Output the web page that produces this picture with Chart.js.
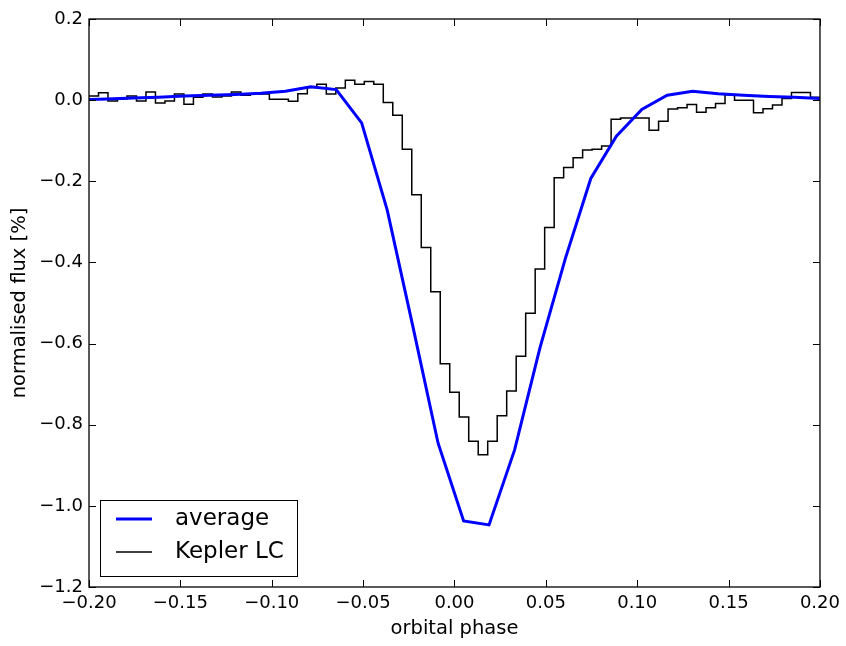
<!DOCTYPE html>
<html>
<head>
<meta charset="utf-8">
<script src="https://cdn.jsdelivr.net/npm/chart.js@4.4.1/dist/chart.umd.min.js"></script>
<style>
  body { margin: 0; background: #fff; }
</style>
</head>
<body>
<canvas id="chartDiv" width="846" height="646"></canvas>
<script>
// binned Kepler light curve, 77 equal bins from -0.2 to 0.2
const keplerFlux = [
  0.010, 0.018, -0.002, 0.003, 0.010, -0.002, 0.020, -0.007, -0.002, 0.015,
  -0.010, 0.007, 0.015, 0.008, 0.010, 0.020, 0.012, 0.016, 0.015, 0.002,
  0.002, -0.003, 0.016, 0.031, 0.039, 0.015, 0.030, 0.049, 0.039, 0.046,
  0.039, -0.006, -0.037, -0.121, -0.233, -0.363, -0.472, -0.650, -0.720, -0.781,
  -0.841, -0.874, -0.841, -0.778, -0.717, -0.631, -0.525, -0.416, -0.314, -0.191,
  -0.166, -0.142, -0.123, -0.121, -0.113, -0.047, -0.044, -0.044, -0.044, -0.074,
  -0.052, -0.022, -0.019, -0.011, -0.030, -0.019, -0.008, 0.013, 0.000, 0.000,
  -0.031, -0.021, -0.012, 0.004, 0.019, 0.019, 0.007
];
const phaseMin = -0.2;
const phaseMax = 0.2;

// averaged model curve
const avgPhase = [
  -0.204, -0.190, -0.176, -0.162, -0.148, -0.134, -0.120, -0.106, -0.0925, -0.0786,
  -0.0647, -0.0508, -0.0368, -0.0229, -0.0090, 0.0050, 0.0189, 0.0329, 0.0468, 0.0607,
  0.0746, 0.0886, 0.1025, 0.1164, 0.1303, 0.1443, 0.1582, 0.1721, 0.1860, 0.2000
];
const avgFlux = [
  0.001, 0.003, 0.005, 0.007, 0.010, 0.012, 0.014, 0.017, 0.022, 0.033,
  0.026, -0.056, -0.271, -0.555, -0.845, -1.037, -1.047, -0.862, -0.610, -0.390,
  -0.193, -0.089, -0.023, 0.012, 0.022, 0.016, 0.012, 0.009, 0.007, 0.004
];

const xTickStep = 0.05;
const yMin = -1.2;
const yMax = 0.2;
const yTickStep = 0.2;

// step line: one point per left bin edge, plus the closing right edge
var keplerPoints = [];
var binWidth = (phaseMax - phaseMin) / keplerFlux.length;
for (var i = 0; i < keplerFlux.length; i++) {
  keplerPoints.push({ x: phaseMin + i * binWidth, y: keplerFlux[i] });
}
keplerPoints.push({ x: phaseMax, y: keplerFlux[keplerFlux.length - 1] });

var avgPoints = avgPhase.map((p, i) => ({ x: p, y: avgFlux[i] }));

const FONT = "'DejaVu Sans', sans-serif";

function fmt(v, digits) {
  if (Math.abs(v) < 1e-9) v = 0;
  return v.toFixed(digits).replace("-", "\u2212");
}

// frame + inward ticks on all four sides, matplotlib style
const frameTicks = {
  id: "frameTicks",
  afterDatasetsDraw(chart) {
    const ctx = chart.ctx;
    const a = chart.chartArea;
    const len = 7;
    ctx.save();
    ctx.strokeStyle = "#000";
    ctx.lineWidth = 1;
    ctx.beginPath();
    chart.scales.x.ticks.forEach((t) => {
      var px = Math.round(chart.scales.x.getPixelForValue(t.value)) + 0.5;
      ctx.moveTo(px, a.bottom);
      ctx.lineTo(px, a.bottom - len);
      ctx.moveTo(px, a.top);
      ctx.lineTo(px, a.top + len);
    });
    chart.scales.y.ticks.forEach((t) => {
      var py = Math.round(chart.scales.y.getPixelForValue(t.value)) + 0.5;
      ctx.moveTo(a.left, py);
      ctx.lineTo(a.left + len, py);
      ctx.moveTo(a.right, py);
      ctx.lineTo(a.right - len, py);
    });
    ctx.stroke();
    ctx.lineWidth = 1.3;
    ctx.strokeRect(a.left, a.top, a.right - a.left, a.bottom - a.top);
    ctx.restore();
  },
};

// legend box in lower left corner of the axes
const boxLegend = {
  id: "boxLegend",
  afterDraw(chart) {
    const ctx = chart.ctx;
    const a = chart.chartArea;
    const x0 = a.left + 11;
    const y1 = a.bottom - 11;
    const w = 197;
    const h = 76;
    ctx.save();
    ctx.fillStyle = "#fff";
    ctx.fillRect(x0, y1 - h, w, h);
    ctx.strokeStyle = "#000";
    ctx.lineWidth = 1;
    ctx.strokeRect(x0 + 0.5, y1 - h + 0.5, w, h);
    ctx.font = "23px " + FONT;
    ctx.textBaseline = "middle";
    chart.data.datasets.forEach((ds, i) => {
      var yy = y1 - h + 19 + i * 33;
      ctx.strokeStyle = ds.borderColor;
      ctx.lineWidth = ds.borderWidth;
      ctx.beginPath();
      ctx.moveTo(x0 + 16, yy);
      ctx.lineTo(x0 + 52, yy);
      ctx.stroke();
      ctx.fillStyle = "#000";
      ctx.fillText(ds.label, x0 + 75, yy);
    });
    ctx.restore();
  },
};

var chart = new Chart(document.getElementById("chartDiv"), {
  type: "line",
  data: {
    datasets: [
      {
        label: "average",
        data: avgPoints,
        borderColor: "#0000ff",
        borderWidth: 3,
        pointRadius: 0,
        tension: 0,
      },
      {
        label: "Kepler LC",
        data: keplerPoints,
        borderColor: "#000000",
        borderWidth: 1.5,
        pointRadius: 0,
        stepped: "before",
      },
    ],
  },
  options: {
    responsive: false,
    animation: false,
    layout: { padding: { top: 19, right: 23, bottom: 0, left: 0 } },
    plugins: {
      legend: { display: false },
      tooltip: { enabled: false },
    },
    scales: {
      x: {
        type: "linear",
        min: phaseMin,
        max: phaseMax,
        grid: { display: false, drawTicks: false },
        border: { display: false },
        ticks: {
          stepSize: xTickStep,
          autoSkip: false,
          maxRotation: 0,
          padding: 6,
          color: "#000",
          font: { family: FONT, size: 18 },
          callback: (v) => fmt(v, 2),
        },
        title: {
          display: true,
          text: "orbital phase",
          color: "#000",
          font: { family: FONT, size: 19.5 },
          padding: { top: 0, bottom: 5 },
        },
        afterFit: (scale) => { scale.height = 59; },
      },
      y: {
        min: yMin,
        max: yMax,
        grid: { display: false, drawTicks: false },
        border: { display: false },
        ticks: {
          stepSize: yTickStep,
          autoSkip: false,
          padding: 6,
          color: "#000",
          font: { family: FONT, size: 18 },
          callback: (v) => fmt(v, 1),
        },
        title: {
          display: true,
          text: "normalised flux [%]",
          color: "#000",
          font: { family: FONT, size: 19.5 },
          padding: { top: 8, bottom: 0 },
        },
        afterFit: (scale) => { scale.width = 89; },
      },
    },
  },
  plugins: [frameTicks, boxLegend],
});
</script>
</body>
</html>
